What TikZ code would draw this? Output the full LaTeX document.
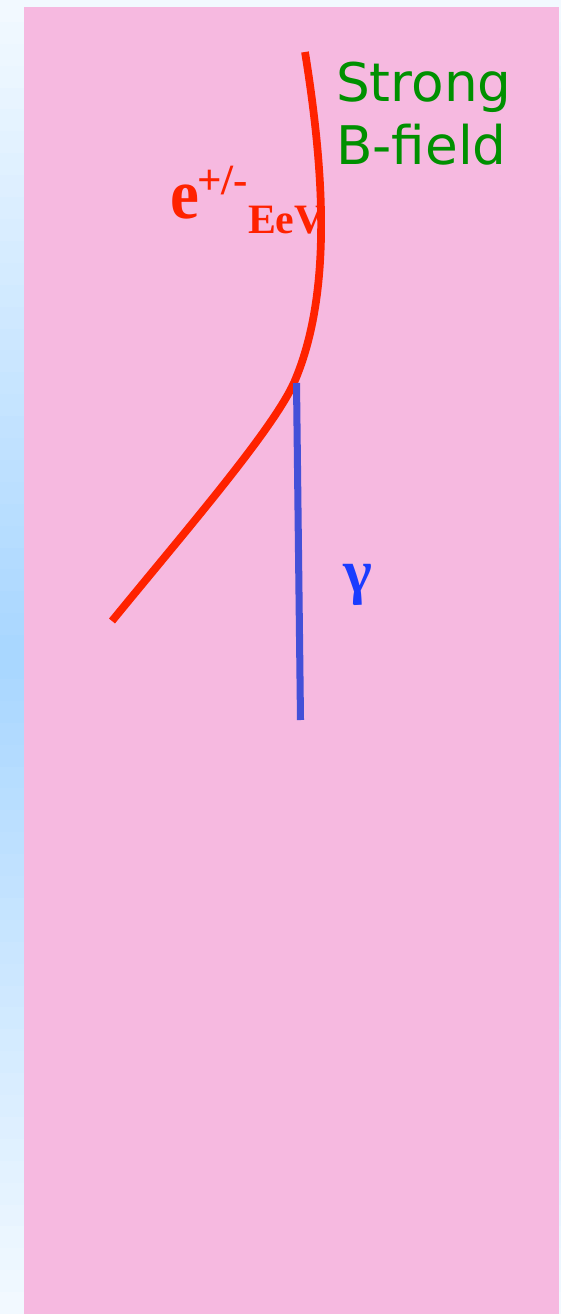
\documentclass[tikz,border=0pt]{standalone}
\usepackage{fontspec}
\setmainfont{Liberation Serif}
\newfontfamily\fieldfont{DejaVu Sans}
\usetikzlibrary{calc,positioning}
\definecolor{skyback}{RGB}{242,249,255}
\definecolor{skymid}{RGB}{168,214,255}
\definecolor{pinkbg}{RGB}{246,185,224}
\definecolor{ered}{RGB}{255,34,0}
\definecolor{gline}{RGB}{68,80,216}
\definecolor{gtext}{RGB}{26,60,255}
\definecolor{bgreen}{RGB}{0,144,0}

\begin{document}
\begin{tikzpicture}[x=0.02cm, y=-0.02cm,
    lbl/.style={anchor=base west, inner sep=0pt, outer sep=0pt},
    track/.style={line width=4.4pt, line cap=butt}
]
\useasboundingbox (0,0) rectangle (561,1314);
% background
\foreach \i in {0,...,59}{
  \pgfmathsetmacro{\m}{100*(1-abs(\i-29.5)/29.5)}
  \fill[skymid!\m!skyback] (0,\i*21.9) rectangle (561,\i*21.9+22.4);
}
\fill[pinkbg] (24,7) rectangle (559,1314);
% electron track
\draw[track, ered] (305,52) .. controls (324,170) and (332,290) .. (296,378)
  .. controls (278,424) and (188,528) .. (112,621);
% photon
\coordinate (v) at (296.5,383);
\coordinate (g) at (300.5,720);
\draw[track, gline, line width=4pt] (v) -- (g);
% labels
\node[lbl, text=ered] (e) at (170,219) {\scalebox{1}[1.1]{\fontsize{37}{40}\selectfont\bfseries e}};
\node[lbl, text=ered] (pm) at (197,195) {\fontsize{24.5}{28}\selectfont\bfseries +/-};
\node[lbl, text=ered] (eev) at (248,234) {\fontsize{23.8}{28}\selectfont\bfseries EeV};
\node[lbl, text=gtext] (gam) at (343,592) {\fontsize{35}{40}\selectfont\bfseries γ};
\node[lbl, text=bgreen] (strong) at (336,102) {\fieldfont\fontsize{30.3}{35.7}\selectfont Strong};
\node[lbl, text=bgreen] (bfield) at (336,165) {\fieldfont\fontsize{30.3}{35.7}\selectfont B-field};
\end{tikzpicture}
\end{document}
